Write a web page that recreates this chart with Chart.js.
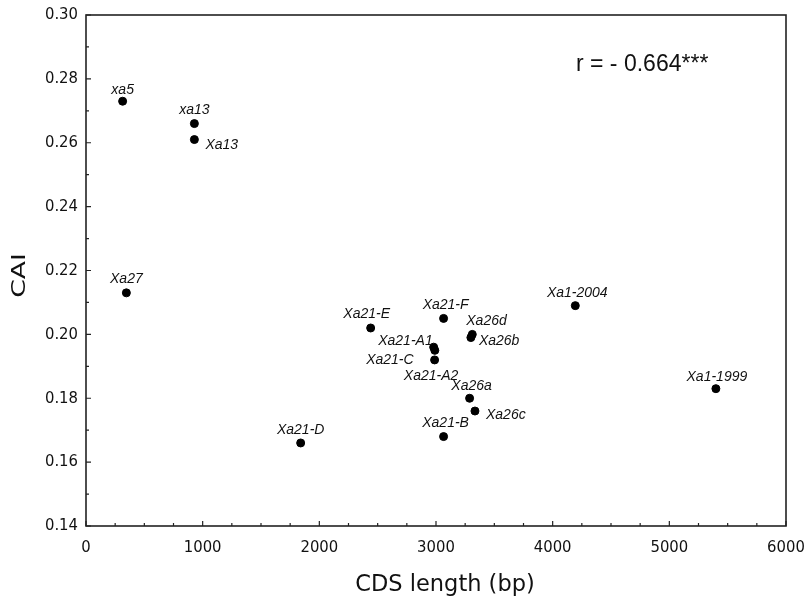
<!DOCTYPE html>
<html>
<head>
<meta charset="utf-8">
<script src="https://cdn.jsdelivr.net/npm/chart.js@4.4.0/dist/chart.umd.min.js"></script>
<style>
  html, body { margin: 0; padding: 0; background: #fff; }
  #wrap { width: 804px; height: 597px; position: relative; }
</style>
</head>
<body>
<div id="wrap"><canvas id="c" width="804" height="597"></canvas></div>
<script>
// ---- data ----
const genes = ["xa5", "xa13", "Xa13", "Xa27", "Xa21-D", "Xa21-E", "Xa21-F", "Xa21-A1", "Xa21-A2", "Xa21-C",
               "Xa26d", "Xa26b", "Xa26a", "Xa26c", "Xa21-B", "Xa1-2004", "Xa1-1999"];
const cdsLength = [314, 929, 929, 346, 1840, 2440, 3065, 2980, 2990, 2988,
                   3311, 3299, 3288, 3334, 3065, 4194, 5399];
const caiValues = [0.273, 0.266, 0.261, 0.213, 0.166, 0.202, 0.205, 0.196, 0.195, 0.192,
                   0.200, 0.199, 0.180, 0.176, 0.168, 0.209, 0.183];
const xTicks = [0, 1000, 2000, 3000, 4000, 5000, 6000];
const yTicks = [0.14, 0.16, 0.18, 0.20, 0.22, 0.24, 0.26, 0.28, 0.30];
const xTitle = "CDS length (bp)";
const yTitle = "CAI";
const correlationText = "r = - 0.664***";

// label placement relative to each point: [dx, dy, align]
const labelOffsets = [
  [0, -11, "center"], [0, -13, "center"], [11, 6, "left"], [0, -14, "center"],
  [0, -13, "center"], [-4, -14, "center"], [2, -13, "center"], [-1, -6, "right"],
  [-31, 26, "left"], [-21, 0, "right"], [-6, -13, "left"], [8, 4, "left"],
  [2, -12, "center"], [11, 4, "left"], [2, -13, "center"], [2, -13, "center"],
  [1, -12, "center"]
];

const points = cdsLength.map((x, i) => ({ x: x, y: caiValues[i] }));
const tickFont = { family: "'DejaVu Sans Condensed', 'DejaVu Sans', sans-serif", size: 16.5 };

const decorPlugin = {
  id: "decor",
  afterDatasetsDraw(chart) {
    const ctx = chart.ctx;
    const xs = chart.scales.x, ys = chart.scales.y;
    const a = chart.chartArea;
    ctx.save();
    // frame
    ctx.strokeStyle = "#222";
    ctx.lineWidth = 1.6;
    ctx.strokeRect(a.left, a.top, a.right - a.left, a.bottom - a.top);
    // inward ticks x
    ctx.lineWidth = 1.2;
    ctx.beginPath();
    for (let v = xs.min; v <= xs.max + 1e-9; v += 250) {
      const px = xs.getPixelForValue(v);
      const major = Math.abs(v % 1000) < 1e-6;
      ctx.moveTo(px, a.bottom);
      ctx.lineTo(px, a.bottom - (major ? 5 : 3));
    }
    // inward ticks y
    for (let k = 0; k <= 16; k++) {
      const v = 0.14 + k * 0.01;
      const py = ys.getPixelForValue(v);
      const major = k % 2 === 0;
      ctx.moveTo(a.left, py);
      ctx.lineTo(a.left + (major ? 5 : 3), py);
    }
    ctx.stroke();
    // point labels
    const meta = chart.getDatasetMeta(0);
    ctx.fillStyle = "#111";
    ctx.font = "italic 14px 'Liberation Sans', Arial, sans-serif";
    ctx.textBaseline = "middle";
    meta.data.forEach((el, i) => {
      const off = labelOffsets[i];
      ctx.textAlign = off[2];
      ctx.fillText(genes[i], el.x + off[0], el.y + off[1]);
    });
    // correlation text
    ctx.font = "23px 'Liberation Sans', Arial, sans-serif";
    ctx.textAlign = "left";
    ctx.fillText(correlationText, xs.getPixelForValue(4200), ys.getPixelForValue(0.2843));
    // axis titles
    ctx.font = "22.5px 'DejaVu Sans', sans-serif";
    ctx.textAlign = "center";
    ctx.textBaseline = "alphabetic";
    ctx.fillText(xTitle, (a.left + a.right) / 2 + 9, 591);
    ctx.save();
    ctx.translate(25, (a.top + a.bottom) / 2 + 5);
    ctx.rotate(-Math.PI / 2);
    ctx.scale(1.4, 1);
    ctx.font = "19px 'DejaVu Sans', sans-serif";
    ctx.fillText(yTitle, 0, 0);
    ctx.restore();
    ctx.restore();
  }
};

new Chart(document.getElementById("c"), {
  type: "scatter",
  data: {
    datasets: [{
      data: points,
      backgroundColor: "#000",
      borderColor: "#000",
      pointRadius: 4,
      pointHoverRadius: 4
    }]
  },
  options: {
    responsive: false,
    animation: false,
    events: [],
    layout: { padding: { top: 15, right: 18, left: 0, bottom: 0 } },
    plugins: { legend: { display: false }, tooltip: { enabled: false } },
    scales: {
      x: {
        type: "linear",
        min: 0, max: 6000,
        afterBuildTicks(scale) { scale.ticks = xTicks.map(v => ({ value: v })); },
        afterFit(scale) { scale.height = 71; scale.paddingLeft = 0; scale.paddingRight = 0; },
        grid: { display: false, drawTicks: false },
        border: { display: false },
        ticks: {
          padding: 12,
          color: "#111",
          font: tickFont,
          maxRotation: 0,
          callback: v => String(v)
        },
        title: { display: false }
      },
      y: {
        type: "linear",
        min: 0.14, max: 0.30,
        afterBuildTicks(scale) { scale.ticks = yTicks.map(v => ({ value: v })); },
        afterFit(scale) { scale.width = 86; scale.paddingTop = 0; scale.paddingBottom = 0; },
        grid: { display: false, drawTicks: false },
        border: { display: false },
        ticks: {
          padding: 8,
          color: "#111",
          font: tickFont,
          callback: v => Number(v).toFixed(2)
        },
        title: { display: false }
      }
    }
  },
  plugins: [decorPlugin]
});
</script>
</body>
</html>
